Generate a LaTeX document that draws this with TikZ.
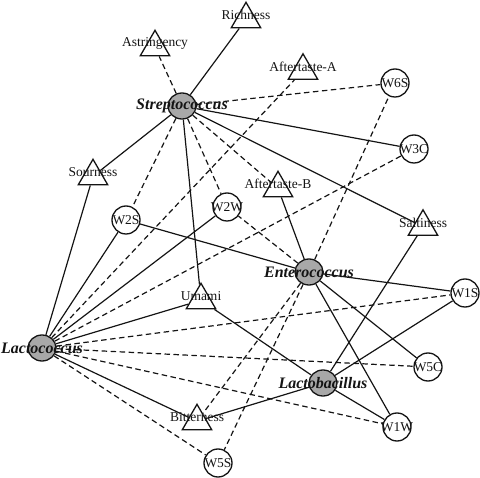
\documentclass[tikz,border=0pt]{standalone}
\usepackage{fontspec}
\setmainfont{Liberation Serif}
\usepackage{tikz}
\usetikzlibrary{shapes.geometric,backgrounds}
\definecolor{ink}    {HTML}{141414}
\definecolor{hubgray}{HTML}{A8A8A8}
\tikzset{
  hubtext/.style    ={font=\fontsize{16}{18}\selectfont\bfseries\itshape, text=ink},
  attrtext/.style   ={font=\fontsize{13.5}{15}\selectfont, text=ink},
  hubnode/.style    ={ellipse, draw=ink, fill=hubgray, line width=1.3pt,
                      minimum width=28pt, minimum height=26pt, inner sep=0pt,
                      label={[hubtext]center:#1}},
  sensornode/.style ={circle, draw=ink, fill=white, line width=1.3pt,
                      minimum size=28pt, inner sep=0pt,
                      label={[attrtext]center:#1}},
  tastenode/.style  ={regular polygon, regular polygon sides=3, draw=ink,
                      fill=white, line width=1.3pt, minimum size=34pt, inner sep=0pt,
                      label={[attrtext,yshift=4.3pt]center:#1}},
  posedge/.style    ={draw=ink, line width=1.2pt},
  negedge/.style    ={draw=ink, line width=1.2pt, dash pattern=on 5.5pt off 3.5pt},
}

\begin{document}
\begin{tikzpicture}[x=1pt,y=-1pt]
    \useasboundingbox (0,0) rectangle (480,478);

    % genera
    \node[hubnode=Streptococcus] (strep) at (182,106) {};
    \node[hubnode=Enterococcus]  (ent)   at (309,272) {};
    \node[hubnode=Lactobacillus] (lbac)  at (323,383) {};
    \node[hubnode=Lactococcus]   (lcoc)  at (42,348)  {};

    % taste attributes
    \node[tastenode=Richness]     (rich)   at (246,19.3)  {};
    \node[tastenode=Astringency]  (astr)   at (155,47.3)  {};
    \node[tastenode=Aftertaste-A] (afta)   at (303,70.8)  {};
    \node[tastenode=Aftertaste-B] (aftb)   at (278,188.3) {};
    \node[tastenode=Saltiness]    (salt)   at (423,226.8) {};
    \node[tastenode=Sourness]     (sour)   at (93,176.3)  {};
    \node[tastenode=Umami]        (umami)  at (201,300.3) {};
    \node[tastenode=Bitterness]   (bitter) at (197,421.3) {};

    % sensors
    \node[sensornode=W6S] (w6s) at (395,83)  {};
    \node[sensornode=W3C] (w3c) at (414,149) {};
    \node[sensornode=W2S] (w2s) at (126,220) {};
    \node[sensornode=W2W] (w2w) at (227,207) {};
    \node[sensornode=W1S] (w1s) at (465,293) {};
    \node[sensornode=W5C] (w5c) at (428,367) {};
    \node[sensornode=W1W] (w1w) at (397,427) {};
    \node[sensornode=W5S] (w5s) at (218,463) {};

    \begin{scope}[on background layer]
    \draw[posedge] (strep) -- (rich);
    \draw[posedge] (strep) -- (sour);
    \draw[posedge] (strep) -- (w3c);
    \draw[posedge] (strep) -- (salt);
    \draw[posedge] (strep) -- (umami);
    \draw[negedge] (strep) -- (astr);
    \draw[negedge] (strep) -- (w6s);
    \draw[negedge] (strep) -- (aftb);
    \draw[negedge] (strep) -- (w2w);
    \draw[negedge] (strep) -- (w2s);

    \draw[posedge] (lcoc) -- (sour);
    \draw[posedge] (lcoc) -- (w2s);
    \draw[posedge] (lcoc) -- (w2w);
    \draw[posedge] (lcoc) -- (umami);
    \draw[posedge] (lcoc) -- (bitter);
    \draw[negedge] (lcoc) -- (afta);
    \draw[negedge] (lcoc) -- (w3c);
    \draw[negedge] (lcoc) -- (w1s);
    \draw[negedge] (lcoc) -- (w5c);
    \draw[negedge] (lcoc) -- (w1w);
    \draw[negedge] (lcoc) -- (w5s);

    \draw[posedge] (ent) -- (w2s);
    \draw[posedge] (ent) -- (aftb);
    \draw[posedge] (ent) -- (w1s);
    \draw[posedge] (ent) -- (w5c);
    \draw[posedge] (ent) -- (w1w);
    \draw[negedge] (ent) -- (w2w);
    \draw[negedge] (ent) -- (w6s);
    \draw[negedge] (ent) -- (bitter);
    \draw[negedge] (ent) -- (w5s);

    \draw[posedge] (lbac) -- (umami);
    \draw[posedge] (lbac) -- (salt);
    \draw[posedge] (lbac) -- (w1s);
    \draw[posedge] (lbac) -- (w1w);
    \draw[posedge] (lbac) -- (bitter);
    \end{scope}
\end{tikzpicture}
\end{document}
